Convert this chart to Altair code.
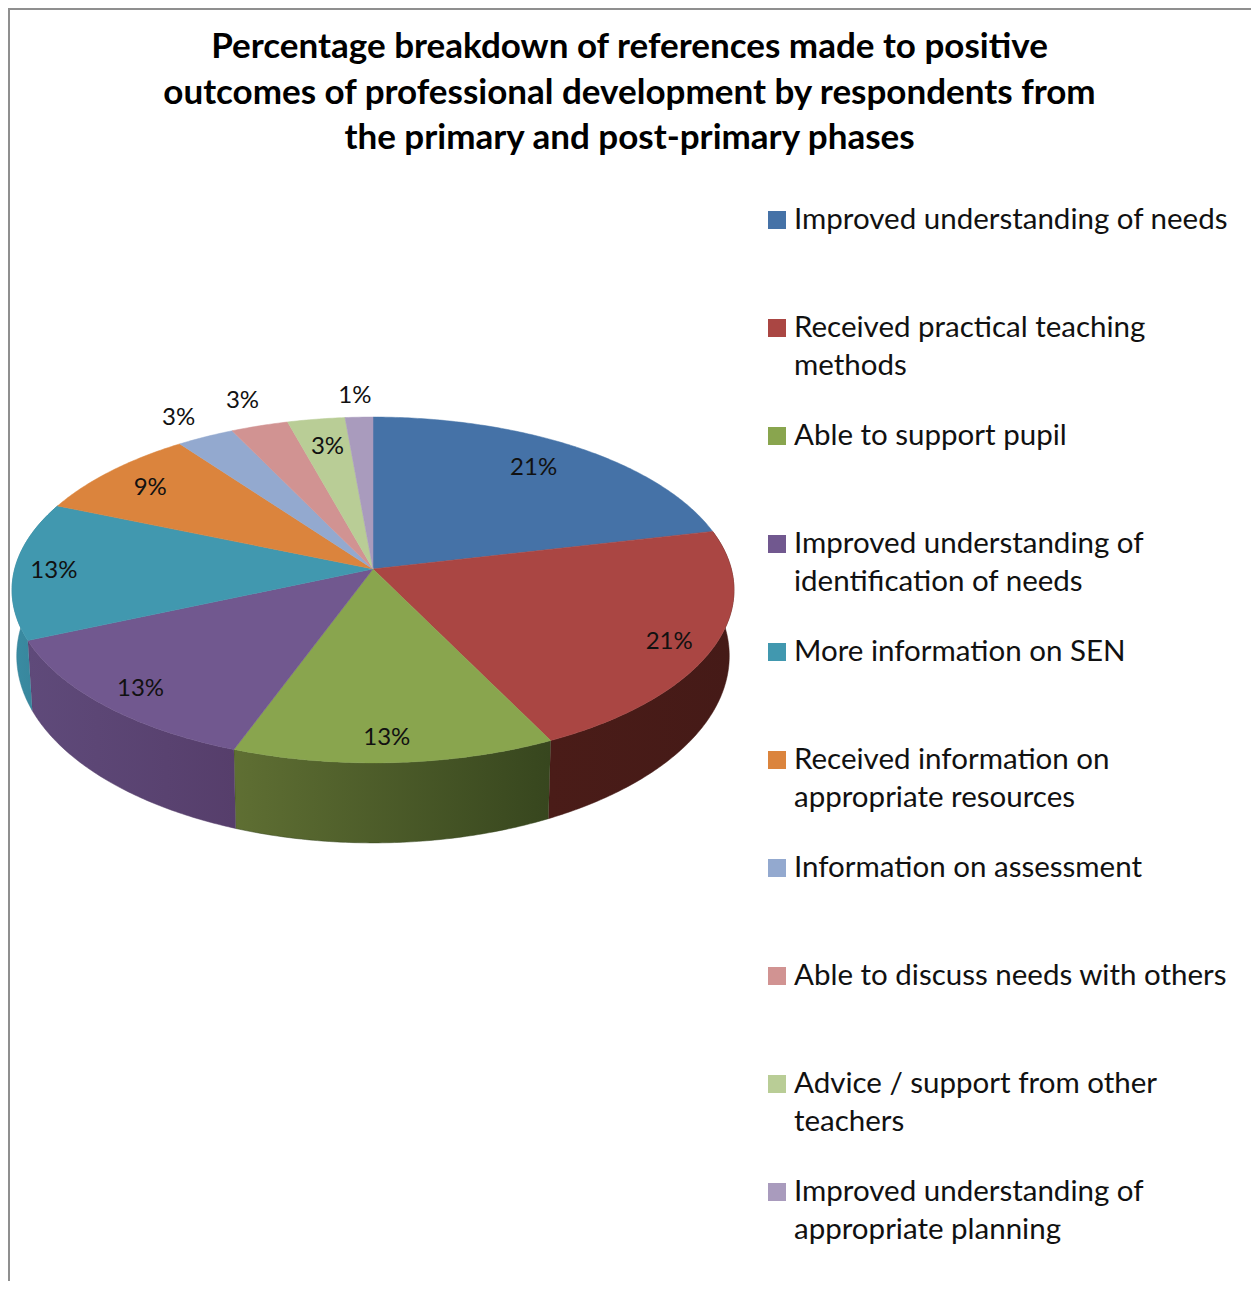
import math
import altair as alt
import pandas as pd

# ---- values ----
categories = [
    "Improved understanding of needs",
    "Received practical teaching methods",
    "Able to support pupil",
    "Improved understanding of identification of needs",
    "More information on SEN",
    "Received information on appropriate resources",
    "Information on assessment",
    "Able to discuss needs with others",
    "Advice / support from other teachers",
    "Improved understanding of appropriate planning",
]
shares = [21.4, 21.4, 12.9, 12.9, 12.9, 8.6, 2.9, 2.9, 2.9, 1.4]
share_labels = ["21%", "21%", "13%", "13%", "13%", "9%", "3%", "3%", "3%", "1%"]
legend_lines = [
    ["Improved understanding of needs"],
    ["Received practical teaching", "methods"],
    ["Able to support pupil"],
    ["Improved understanding of", "identification of needs"],
    ["More information on SEN"],
    ["Received information on", "appropriate resources"],
    ["Information on assessment"],
    ["Able to discuss needs with others"],
    ["Advice / support from other", "teachers"],
    ["Improved understanding of", "appropriate planning"],
]
title_lines = [
    "Percentage breakdown of references made to positive",
    "outcomes of professional development by  respondents from",
    "the primary and post-primary phases",
]

# ---- styles and layout ----
top_colors = ["#4572A7", "#AA4643", "#89A54E", "#71588F", "#4198AF",
              "#DB843D", "#93A9CF", "#D19392", "#B9CD96", "#A99BBD"]
side_gradients = {
    1: ("#4A1C18", "#451A17"),
    2: ("#5F6F33", "#37461E"),
    3: ("#5F4A7A", "#563E6B"),
    4: ("#3A8CA3", "#357F94"),
}
label_radius = [0.80, 0.89, 0.88, 0.88, 0.89, 0.83, 1.18, 1.20, 0.80, 1.166]
label_nudge_x = [-5, -6, -5, 2, 0, -3, 0, 3, 1, -2]
label_nudge_y = [-2, 5, 1, 2, 1, 1, 2, 0, 0, 1]
FONT = "Lato"
CX, CY, A, B, K = 373.0, 569.0, 358.3, 170.4, 0.1214
W, H = 1243, 1273
x_scale = alt.Scale(domain=[8, 8 + W])
y_scale = alt.Scale(domain=[8 + H, 8])


def project(theta, r=1.0):
    """Perspective projection of a pie point; theta is clockwise from 12 o'clock."""
    u, v = r * math.sin(theta), r * math.cos(theta)
    d = 1 + K * v
    return CX + A * u / d, CY - B * v / d


def lower(x, y):
    """Matching point on the bottom rim of the pie."""
    return CX + (x - CX) * 0.987, y + 70 + 0.081 * (y - 640)


def arc(t0, t1):
    n = max(4, int(abs(t1 - t0) / 0.01))
    return [project(t0 + (t1 - t0) * i / n) for i in range(n + 1)]


total = sum(shares)
edges = [0.0]
for s in shares:
    edges.append(edges[-1] + s / total * 2 * math.pi)

layers = []


def poly_layer(points, **mark):
    df = pd.DataFrame(points, columns=["x", "y"])
    df["order"] = range(len(df))
    return alt.Chart(df).mark_line(**mark).encode(
        x=alt.X("x:Q", scale=x_scale, axis=None),
        y=alt.Y("y:Q", scale=y_scale, axis=None),
        order="order:Q",
    )


# frame edges (left and top only)
frame = pd.DataFrame({"k": [0]})
layers.append(alt.Chart(frame).mark_rule(color="#8f8f8f", strokeWidth=2).encode(
    x=alt.value(1), y=alt.value(0), y2=alt.value(H)))
layers.append(alt.Chart(frame).mark_rule(color="#8f8f8f", strokeWidth=2).encode(
    y=alt.value(1), x=alt.value(0), x2=alt.value(W)))

# pie walls
for i, (c0, c1) in side_gradients.items():
    rim = arc(edges[i], edges[i + 1])
    pts = rim + [lower(*p) for p in reversed(rim)]
    grad = alt.Gradient(gradient="linear", x1=0, x2=1, y1=0, y2=0,
                        stops=[alt.GradientStop(offset=0, color=c0),
                               alt.GradientStop(offset=1, color=c1)])
    layers.append(poly_layer(pts, fill=grad, stroke=c1, strokeWidth=0.5))

# pie top
for i, col in enumerate(top_colors):
    pts = [(CX, CY)] + arc(edges[i], edges[i + 1]) + [(CX, CY)]
    layers.append(poly_layer(pts, fill=col, stroke=col, strokeWidth=0.5))

# share labels
lab = []
for i, (t, r) in enumerate(zip(share_labels, label_radius)):
    x, y = project((edges[i] + edges[i + 1]) / 2, r)
    lab.append({"x": x + label_nudge_x[i], "y": y + label_nudge_y[i], "t": t})
layers.append(
    alt.Chart(pd.DataFrame(lab)).mark_text(
        font=FONT, fontSize=24, color="#111111", align="center", baseline="middle"
    ).encode(
        x=alt.X("x:Q", scale=x_scale, axis=None),
        y=alt.Y("y:Q", scale=y_scale, axis=None),
        text="t:N",
    )
)

# legend
ROW0, ROW_STEP, LINE_STEP = 220, 108, 38
swatch = [{"x": 777, "y": ROW0 + ROW_STEP * i, "c": c}
          for i, c in enumerate(categories)]
layers.append(
    alt.Chart(pd.DataFrame(swatch)).mark_square(size=324, opacity=1).encode(
        x=alt.X("x:Q", scale=x_scale, axis=None),
        y=alt.Y("y:Q", scale=y_scale, axis=None),
        fill=alt.Fill("c:N", scale=alt.Scale(domain=categories, range=top_colors), legend=None),
    )
)
rows = []
for i, lines in enumerate(legend_lines):
    for j, line in enumerate(lines):
        rows.append({"x": 794, "y": ROW0 + ROW_STEP * i + LINE_STEP * j, "t": line})
layers.append(
    alt.Chart(pd.DataFrame(rows)).mark_text(
        font=FONT, fontSize=29.5, color="#111111", align="left", baseline="middle"
    ).encode(
        x=alt.X("x:Q", scale=x_scale, axis=None),
        y=alt.Y("y:Q", scale=y_scale, axis=None),
        text="t:N",
    )
)

chart = alt.layer(*layers).properties(
    width=W,
    height=H,
    padding=0,
    autosize=alt.AutoSizeParams(type="none"),
    title=alt.TitleParams(
        text=title_lines,
        font=FONT,
        fontSize=35,
        fontWeight="bold",
        color="#000000",
        anchor="middle",
        frame="group",
        baseline="top",
        lineHeight=45.5,
        offset=0,
        dy=149,
    ),
).configure_view(strokeWidth=0)

chart.save("out.html", embed_options={"renderer": "svg", "actions": False})
